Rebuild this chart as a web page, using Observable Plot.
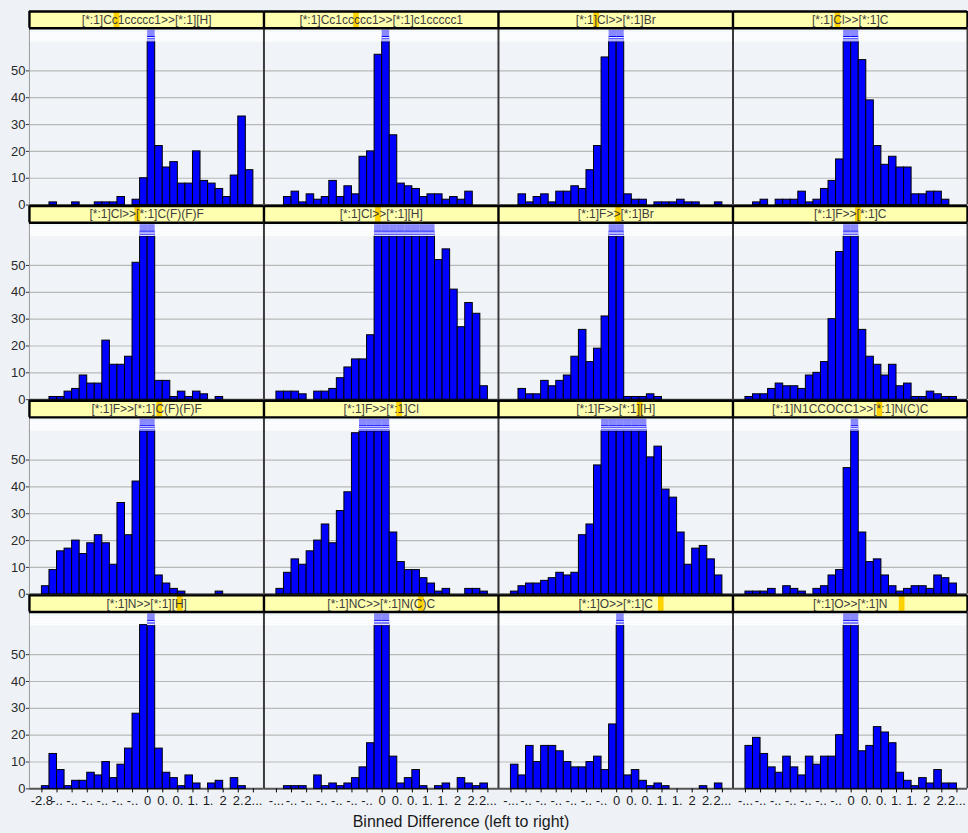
<!DOCTYPE html>
<html>
<head>
<meta charset="utf-8">
<script src="https://cdn.jsdelivr.net/npm/d3@7"></script>
<script src="https://cdn.jsdelivr.net/npm/@observablehq/plot@0.6"></script>
<style>
  html, body { margin: 0; padding: 0; background: #eef2f7; overflow: hidden; }
  body { position: relative; width: 968px; height: 833px; font-family: "Liberation Sans", Arial, sans-serif; }
  #chart svg { display: block; }
  #xlabel { position: absolute; top: 813px; left: 461px; transform: translateX(-50%); font-size: 16px; color: #1a1a1a; white-space: nowrap; }
</style>
</head>
<body>
<div id="chart"></div>
<div id="xlabel">Binned Difference (left to right)</div>
<script>
// ---- panel titles (reading order, 4 per row) ----
const panelLabels = [
  "[*:1]Cc1ccccc1>>[*:1][H]", "[*:1]Cc1ccccc1>>[*:1]c1ccccc1", "[*:1]Cl>>[*:1]Br", "[*:1]Cl>>[*:1]C",
  "[*:1]Cl>>[*:1]C(F)(F)F", "[*:1]Cl>>[*:1][H]", "[*:1]F>>[*:1]Br", "[*:1]F>>[*:1]C",
  "[*:1]F>>[*:1]C(F)(F)F", "[*:1]F>>[*:1]Cl", "[*:1]F>>[*:1][H]", "[*:1]N1CCOCC1>>[*:1]N(C)C",
  "[*:1]N>>[*:1][H]", "[*:1]NC>>[*:1]N(C)C", "[*:1]O>>[*:1]C", "[*:1]O>>[*:1]N"
];
// position (in binned-difference units) of the highlight marker in each title strip
const highlightAt = [-0.81, -0.68, -0.53, -0.35, -0.26, -0.10, 0.05, 0.19, 0.32, 0.46, 0.62, 0.76, 0.86, 1.04, 1.18, 1.35];

// ---- bins: 28 bins of width 0.2 starting at -2.8 ----
const binStart = -2.8;
const binWidth = 0.2;
// counts per bin (values of 70 are off the scale: drawn clipped)
const cCc1H     = [0,1,0,0,1,0,0,1,1,1,3,0,2,10,70,22,14,16,8,8,20,9,8,6,3,11,33,13];
const cCc1c1    = [0,3,5,1,4,2,3,9,3,7,4,18,20,56,70,26,8,7,6,3,4,4,2,3,2,5,0,0];
const cClBr     = [0,4,1,3,4,1,5,5,7,6,13,22,55,70,70,4,2,2,0,1,1,1,2,1,1,0,0,1];
const cClC      = [0,1,2,0,2,2,2,5,1,2,6,9,17,70,70,54,39,22,15,18,14,14,4,4,5,5,2,0];
const cClCF3    = [0,1,1,3,4,9,6,6,22,13,13,16,51,70,70,7,7,1,3,1,3,2,0,1,0,0,0,0];
const cClH      = [3,3,3,2,0,3,3,4,8,12,15,15,24,70,70,70,70,70,70,70,70,52,56,41,27,36,32,5];
const cFBr      = [0,4,2,2,7,5,7,9,16,26,14,19,31,70,70,1,1,1,2,1,0,0,0,0,0,0,0,0];
const cFC       = [1,2,2,4,6,5,5,4,9,10,14,30,55,70,70,26,16,13,9,13,5,6,1,1,3,2,1,1];
const cFCF3     = [3,9,16,17,20,15,19,22,19,11,34,22,42,70,70,7,4,2,1,0,0,0,0,1,0,0,0,0];
const cFCl      = [2,8,13,11,16,20,26,19,31,38,60,70,70,70,70,23,12,9,9,6,4,1,2,0,0,2,2,1];
const cFH       = [1,3,4,4,5,6,8,7,8,22,26,48,70,70,70,70,70,70,51,55,39,36,23,11,17,18,13,7];
const cMorphNMe2= [1,1,1,2,0,3,2,1,0,2,3,7,9,47,70,23,12,13,7,3,1,2,3,3,2,7,6,4];
const cNH       = [1,13,7,1,3,3,6,5,10,4,9,15,28,61,70,15,6,4,1,5,2,0,2,3,0,4,1,0];
const cNCNMe2   = [0,1,1,1,0,5,1,2,1,2,4,8,17,70,70,12,2,4,7,1,0,1,2,0,4,2,1,2];
const cOC       = [9,5,16,10,16,16,14,10,8,8,10,12,7,24,70,5,7,3,1,2,1,0,0,0,0,1,0,2];
const cON       = [16,19,13,8,6,12,8,5,12,9,12,12,20,70,70,14,16,23,21,17,6,3,1,4,2,7,2,2];
const panelCounts = [cCc1H, cCc1c1, cClBr, cClC, cClCF3, cClH, cFBr, cFC, cFCF3, cFCl, cFH, cMorphNMe2, cNH, cNCNMe2, cOC, cON];

// ---- axis ticks ----
const yTicks = [0, 10, 20, 30, 40, 50];
const xTickValues = [-2.8, -2.4, -2.0, -1.6, -1.2, -0.8, -0.4, 0, 0.4, 0.8, 1.2, 1.6, 2.0, 2.4, 2.8];
const xTickLabelsFirstCol = ["-2.8", "-..", "-..", "-..", "-..", "-..", "-..", "0", "0.", "0.", "1.", "1.", "2", "2.", "2..."];
const xTickLabelsOtherCols = ["-...", "-..", "-..", "-..", "-..", "-..", "-..", "0", "0.", "0.", "1.", "1.", "2", "2.", "2..."];

// ---- derived tables ----
const NCOL = 4;
const X0 = -3.13, X1 = 3.08;          // x extent of each panel
const CLIP = 60.7;                    // bars above this are drawn clipped
const PLOT_TOP = 65.9, HEAD_TOP = 72.1;

const facets = panelLabels.map((label, i) => ({label, col: i % NCOL, row: Math.floor(i / NCOL), hx: highlightAt[i]}));
const bars = [];
panelCounts.forEach((arr, i) => arr.forEach((c, k) => {
  if (c > 0) {
    const x1 = binStart + k * binWidth;
    bars.push({col: i % NCOL, row: Math.floor(i / NCOL), x1, x2: x1 + binWidth, c, over: c > 61.5});
  }
}));
const caps = bars.filter(d => d.over);
const capStripes = [];
caps.forEach(d => [61.2, 61.8, 62.4].forEach(y => capStripes.push({...d, y})));
const bandLines = [];
facets.forEach(f => [61.2, 61.8, 62.4, 63.0, 63.6, 64.2].forEach(y => bandLines.push({...f, y})));
const xTicks = [];
for (let c = 0; c < NCOL; c++) {
  xTickValues.forEach((v, j) => xTicks.push({col: c, row: 3, x: v, text: c === 0 ? xTickLabelsFirstCol[j] : xTickLabelsOtherCols[j]}));
}
const grid = [];
facets.forEach(f => yTicks.slice(1).forEach(y => grid.push({...f, y})));

const F = {fx: "col", fy: "row"};
const chart = Plot.plot({
  width: 970,
  height: 812,
  marginTop: 10,
  marginBottom: 22,
  marginLeft: 28,
  marginRight: 0,
  x: {domain: [X0, X1], axis: null},
  y: {domain: [0, 72.5]},
  fx: {domain: [0, 1, 2, 3], padding: 0, axis: null},
  fy: {domain: [0, 1, 2, 3], padding: 0, axis: null},
  style: {background: "transparent", fontFamily: "'Liberation Sans', Arial, sans-serif", fontSize: "13px", color: "#333", overflow: "visible"},
  marks: [
    // panel background and faint top band
    Plot.rect(facets, {...F, x1: () => X0, x2: () => X1, y1: () => 0, y2: () => PLOT_TOP, fill: "#f0f4f8"}),
    Plot.rect(facets, {...F, x1: () => X0, x2: () => X1, y1: () => CLIP, y2: () => PLOT_TOP, fill: "#ffffff", fillOpacity: 0.35}),
    Plot.ruleY(bandLines, {...F, y: "y", x1: () => X0, x2: () => X1, stroke: "#ffffff", strokeWidth: 1, strokeOpacity: 0.9}),
    // grid
    Plot.ruleY(grid, {...F, y: "y", x1: () => X0, x2: () => X1, stroke: "#b8b8b8", strokeWidth: 1.2}),
    // zero line
    Plot.ruleY(facets, {...F, y: () => 0, x1: () => X0, x2: () => X1, stroke: "#555", strokeWidth: 2}),
    // bars
    Plot.rect(bars, {...F, x1: "x1", x2: "x2", y1: () => 0, y2: d => d.over ? CLIP : d.c, fill: "#0000ff", stroke: "#000", strokeWidth: 1}),
    // clipped-bar caps
    Plot.rect(caps, {...F, x1: "x1", x2: "x2", y1: () => CLIP, y2: () => 62.8, fill: "#0000ff"}),
    Plot.ruleY(capStripes, {...F, y: "y", x1: "x1", x2: "x2", stroke: "#ffffff", strokeWidth: 1}),
    Plot.rect(caps, {...F, x1: "x1", x2: "x2", y1: () => 62.8, y2: () => 65.2, fill: "#0000ff", fillOpacity: 0.45}),
    // column dividers
    Plot.ruleX(facets, {...F, x: () => X1, y1: () => 0, y2: () => PLOT_TOP, stroke: "#3a3a3a", strokeWidth: 2}),
    Plot.ruleX(facets.filter(f => f.col === 0), {...F, x: () => X0, y1: () => 0, y2: () => PLOT_TOP, stroke: "#9a9a9a", strokeWidth: 1}),
    // title strip
    Plot.rect(facets, {...F, x1: () => X0, x2: () => X1, y1: () => PLOT_TOP, y2: () => HEAD_TOP, fill: "#ffffb0"}),
    Plot.rect(facets, {...F, x1: d => d.hx - 0.075, x2: d => d.hx + 0.075, y1: () => PLOT_TOP + 0.2, y2: () => HEAD_TOP - 0.2, fill: "#ffd200"}),
    Plot.ruleY(facets, {...F, y: () => HEAD_TOP, x1: () => X0, x2: () => X1, stroke: "#000", strokeWidth: 2.4}),
    Plot.ruleY(facets, {...F, y: () => PLOT_TOP, x1: () => X0, x2: () => X1, stroke: "#000", strokeWidth: 2.4}),
    Plot.ruleX(facets, {...F, x: () => X1, y1: () => PLOT_TOP, y2: () => HEAD_TOP, stroke: "#000", strokeWidth: 2.4}),
    Plot.ruleX(facets.filter(f => f.col === 0), {...F, x: () => X0, y1: () => PLOT_TOP, y2: () => HEAD_TOP, stroke: "#000", strokeWidth: 2.4}),
    Plot.text(facets, {...F, x: () => (X0 + X1) / 2, y: () => (PLOT_TOP + HEAD_TOP) / 2, text: "label", fontSize: 12, fill: "#3c3c3c"}),
    // y axis (left column)
    Plot.axisY({ticks: yTicks, tickSize: 3, tickPadding: 1, label: null, fontSize: 13, fill: "#2a2a2a"}),
    // x axis (bottom row)
    Plot.ruleX(xTicks, {...F, x: "x", y1: () => 0, y2: () => -1.5, stroke: "#000", strokeWidth: 1}),
    Plot.text(xTicks, {...F, x: "x", y: () => 0, dy: 12, text: "text", fontSize: 13, fill: "#1a1a1a"})
  ]
});
document.getElementById("chart").appendChild(chart);
</script>
</body>
</html>
